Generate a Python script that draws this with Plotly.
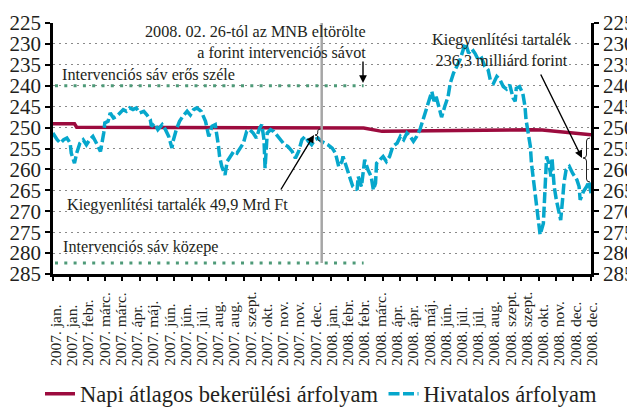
import plotly.graph_objects as go

# ---------------- data ----------------
tick_labels = [
    "2007. jan.", "2007. jan.", "2007. febr.", "2007. márc.", "2007. márc.", "2007. ápr.",
    "2007. máj.", "2007. jún.", "2007. jún.", "2007. júl.", "2007. aug.", "2007. aug.",
    "2007. szept.", "2007. okt.", "2007. nov.", "2007. nov.", "2007. dec.",
    "2008. jan.", "2008. febr.", "2008. febr.", "2008. márc.", "2008. ápr.", "2008. ápr.",
    "2008. máj.", "2008. jún.", "2008. júl.", "2008. júl.", "2008. aug.", "2008. szept.",
    "2008. szept.", "2008. okt.", "2008. nov.", "2008. dec.", "2008. dec.",
]
label_step = 15  # trading days between category labels

hiv_day = [-2, 2, 5, 8, 11, 14, 15, 18, 20, 23, 26, 29, 32, 35, 39, 42, 45, 46, 49, 51, 54, 57, 60, 63, 66, 69,
           72, 75, 78, 82, 85, 88, 89, 92, 95, 99, 102, 105, 108, 109, 112, 115, 118, 122, 125, 128, 131, 135,
           139, 142, 145, 148, 151, 152, 154, 157, 159, 162, 165, 168, 171, 174, 177, 180, 183, 186, 189, 191,
           193, 194, 196, 199, 202, 206, 209, 212, 215, 219, 222, 225, 228, 231, 234, 237, 240, 243, 246, 249,
           252, 256, 259, 262, 265, 266, 269, 272, 275, 279, 280, 283, 286, 289, 292, 294, 296, 297, 300, 303,
           306, 309, 312, 316, 319, 322, 325, 328, 331, 334, 337, 339, 342, 345, 348, 350, 352, 356, 357, 360,
           363, 365, 368, 371, 374, 377, 379, 382, 385, 388, 391, 394, 397, 400, 402, 405, 408, 411, 414, 417,
           420, 423, 425, 426, 429, 432, 434, 435, 437, 439, 440, 442, 443, 445, 446, 448, 451, 452, 453, 454,
           456, 458, 459, 461, 463, 465, 467, 469, 470, 472, 475, 478, 482, 484, 485, 488, 491, 493, 495]
hiv_val = [251.3, 252.9, 253.7, 252.9, 252.5, 253.7, 256.1, 258.5, 256.1, 253.7, 252.9, 254.1, 252.9, 252.1,
           254.1, 255.7, 251.3, 248.9, 248.5, 246.5, 247.7, 247.3, 246.5, 245.7, 246.1, 245.3, 245.7, 245.3,
           246.5, 246.1, 247.0, 248.1, 249.7, 249.0, 250.5, 249.3, 250.5, 252.1, 254.9, 253.3, 250.5, 248.5,
           247.3, 246.1, 247.0, 245.7, 245.3, 246.1, 248.5, 252.1, 249.7, 249.3, 254.5, 256.9, 259.3, 261.3,
           258.1, 256.9, 255.7, 256.1, 254.9, 253.7, 250.9, 250.5, 251.3, 252.5, 250.1, 249.3, 252.9, 259.7,
           251.3, 250.5, 250.9, 252.1, 252.9, 254.1, 254.5, 255.7, 257.3, 255.7, 252.9, 252.1, 253.3, 254.1,
           252.9, 252.5, 253.3, 253.7, 254.1, 254.9, 256.1, 259.3, 258.1, 256.9, 259.3, 261.7, 264.1, 264.9,
           261.7, 264.1, 257.7, 260.1, 261.7, 264.9, 263.3, 258.5, 257.7, 256.9, 258.1, 256.9, 254.5, 253.7,
           252.1, 252.9, 251.3, 252.1, 253.3, 252.1, 250.5, 248.9, 246.5, 244.1, 241.4, 243.7, 242.6, 246.5,
           247.5, 244.9, 242.6, 239.4, 237.0, 235.4, 233.8, 231.4, 229.8, 232.2, 231.2, 232.3, 233.9, 233.4,
           235.4, 236.2, 238.6, 239.4, 237.8, 238.6, 240.2, 240.8, 239.8, 242.9, 243.7, 240.6, 240.2, 241.8,
           244.9, 248.1, 251.3, 254.5, 258.5, 262.5, 265.7, 268.9, 272.1, 275.6, 272.9, 266.5, 260.1, 256.9,
           258.5, 261.7, 257.3, 264.1, 267.3, 270.1, 272.1, 266.5, 263.3, 260.1, 259.3, 260.9, 262.5, 264.1,
           267.3, 265.3, 264.1, 262.9, 265.7]

napi_day = [-2, 18, 20, 120, 246, 285, 302, 356, 440, 450, 495]
napi_val = [249.1, 249.1, 249.9, 249.9, 250.0, 250.1, 250.9, 250.7, 250.5, 250.6, 251.7]

band_day = [0, 285]          # intervention band shown until 2008-02-26
band_edge = 240.01           # strong edge of the band
band_mid = 282.36            # central parity
abolish_day = 246.3          # vertical marker

# ---------------- layout helpers (reference pixel -> paper) ----------------
OFF = 8                       # page body margin
W, H = 635 - OFF, 407 - OFF
X0, X1 = 53, 591              # plot area in screenshot pixels
Y0, Y1 = 23, 274
def px(x):
    return (x - X0) / (X1 - X0)
def py(y):
    return (Y1 - y) / (Y1 - Y0)

FONT = "Liberation Serif"
TXT = "#231f20"
RED = "#9c0b3e"
BLUE = "#06a7cc"
GREEN = "#4e9a78"

fig = go.Figure()

fig.add_trace(go.Scatter(x=band_day, y=[band_edge, band_edge], mode="lines", yaxis="y2",
                         line=dict(color=GREEN, width=3, dash="3px,6.3px"), showlegend=False, hoverinfo="skip"))
fig.add_trace(go.Scatter(x=band_day, y=[band_mid, band_mid], mode="lines",
                         line=dict(color=GREEN, width=3, dash="3px,6.3px"), showlegend=False, hoverinfo="skip"))
fig.add_trace(go.Scatter(x=napi_day, y=napi_val, mode="lines", name="Napi átlagos bekerülési árfolyam",
                         line=dict(color=RED, width=3.5)))
fig.add_trace(go.Scatter(x=hiv_day, y=hiv_val, mode="lines", name="Hivatalos árfolyam",
                         line=dict(color=BLUE, width=3.5, dash="11px,3.5px")))

yax = dict(range=[285, 225], tickmode="linear", tick0=225, dtick=5, showline=True, linecolor="black",
           linewidth=2.5, ticks="outside", ticklen=5, tickwidth=2, tickcolor="black", automargin=False,
           tickfont=dict(family=FONT, size=21, color=TXT), zeroline=False)

fig.update_layout(
    width=W, height=H,
    margin=dict(l=X0 - OFF, r=W - (X1 - OFF), t=Y0 - OFF, b=H - (Y1 - OFF), pad=0, autoexpand=False),
    paper_bgcolor="white", plot_bgcolor="white",
    font=dict(family=FONT, color=TXT),
    xaxis=dict(range=[-1.85, 495.0], showgrid=False, zeroline=False, showline=True, linecolor="black",
               linewidth=3, ticks="outside", ticklen=4, tickwidth=2, tickcolor="black", automargin=False,
               tickmode="linear", tick0=-1.85, dtick=16.02, showticklabels=False),
    yaxis=dict(**yax, showgrid=True, gridcolor="#8a8a8a", gridwidth=1, griddash="2px,4px", side="left"),
    yaxis2=dict(**yax, showgrid=False, overlaying="y", side="right", anchor="x"),
    legend=dict(orientation="h", x=px(40), xanchor="left", y=py(394), yanchor="middle",
                font=dict(family=FONT, size=22.5, color=TXT), bgcolor="rgba(0,0,0,0)", itemwidth=30),
    showlegend=True,
)

# vertical marker line
fig.add_shape(type="line", xref="x", yref="y", x0=abolish_day, x1=abolish_day, y0=225, y1=band_mid,
              line=dict(color="#a6a6a6", width=2.5), layer="above")

# braces
def brace(right, tip, top, mid, bottom, r=3):
    m = (right + tip) / 2
    pts = [
        f"M {px(right)},{py(top)}",
        f"Q {px(m)},{py(top)} {px(m)},{py(top + r)}",
        f"L {px(m)},{py(mid - r)}",
        f"Q {px(m)},{py(mid)} {px(tip)},{py(mid)}",
        f"Q {px(m)},{py(mid)} {px(m)},{py(mid + r)}",
        f"L {px(m)},{py(bottom - r)}",
        f"Q {px(m)},{py(bottom)} {px(right)},{py(bottom)}",
    ]
    return " ".join(pts)

fig.add_shape(type="path", xref="paper", yref="paper", path=brace(590, 583, 138, 158, 182),
              line=dict(color="#222", width=1))
fig.add_shape(type="path", xref="paper", yref="paper", path=brace(320.5, 315, 129, 135, 141, r=2),
              line=dict(color="#222", width=1))

# x category labels (bottom aligned, rotated)
for i, lab in enumerate(tick_labels):
    fig.add_annotation(x=i * label_step, xref="x", y=py(368), yref="paper", text=lab, textangle=-90,
                       xanchor="center", yanchor="bottom", showarrow=False,
                       font=dict(family=FONT, size=15.5, color=TXT))

# text annotations
def note(text, x, y, xanchor="left", align="left"):
    fig.add_annotation(x=px(x), y=py(y), xref="paper", yref="paper", text=text, showarrow=False,
                       xanchor=xanchor, yanchor="middle", align=align,
                       font=dict(family=FONT, size=16.2, color=TXT))

note("2008. 02. 26-tól az MNB eltörölte<br>a forint intervenciós sávot", 368, 42, "right", "right")
note("Intervenciós sáv erős széle", 60, 75)
note("Kiegyenlítési tartalék 49,9 Mrd Ft", 65, 205)
note("Intervenciós sáv közepe", 61, 247)
note("Kiegyenlítési tartalék<br>236,3 milliárd forint", 502, 50, "center", "center")

# arrows
def arrow(hx, hy, tx, ty):
    fig.add_annotation(x=px(hx), y=py(hy), xref="paper", yref="paper", ax=tx - hx, ay=ty - hy,
                       text="", showarrow=True, arrowhead=2, arrowsize=1.1, arrowwidth=1.4,
                       arrowcolor="black", standoff=0)

arrow(363, 83, 363, 60)
arrow(314, 135, 280, 191)
arrow(582, 158, 540, 73)

fig.write_html("out.html")
